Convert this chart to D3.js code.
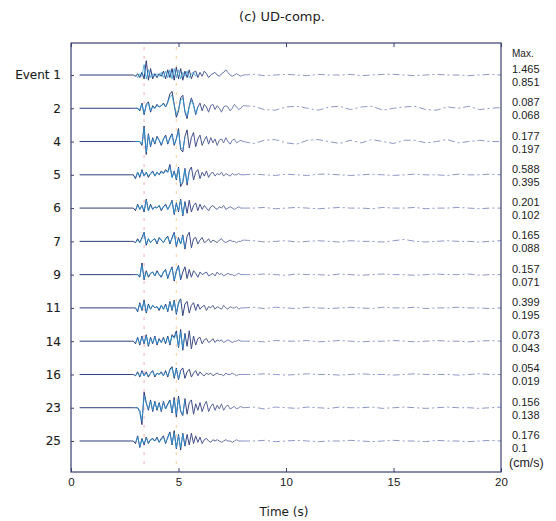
<!DOCTYPE html>
<html>
<head>
<meta charset="utf-8">
<script src="https://cdn.jsdelivr.net/npm/d3@7"></script>
<style>
  body { margin: 0; background: #fff; }
  svg { display: block; }
</style>
</head>
<body>
<div id="chart"></div>
<script>
// event rows, top to bottom
const events = ["Event 1", "2", "4", "5", "6", "7", "9", "11", "14", "16", "23", "25"];
// max amplitudes (cm/s) printed at the right, observed / synthetic
const maxObs = ["1.465", "0.087", "0.177", "0.588", "0.201", "0.165", "0.157", "0.399", "0.073", "0.054", "0.156", "0.176"];
const maxSyn = ["0.851", "0.068", "0.197", "0.395", "0.102", "0.088", "0.071", "0.195", "0.043", "0.019", "0.138", "0.1"];
const xTicks = [0, 5, 10, 15, 20];
// phase picks (s)
const marks = [3.4, 4.9];

// observed traces, normalised amplitude, every 0.1 s from 2.8 s to 8.0 s
const obs = [
  [0,0,-1,1,-2,2,-3,11,-4,5,-3,1,-2,1,-1,3,-3,4,-2,5,-4,6,-3,5,-4,3,-2,4,-3,2,3,-2,2,-1,3,1,-2,0,1,2,0,-1,1,2,4,2,0,-1,0,1,0,-1,0],
  [0,0,0,0,-2,4,-5,3,5,-3,2,0,3,1,2,4,1,5,11,13,3,-7,-2,8,10,-3,-8,2,8,3,-5,1,4,-2,3,1,-3,2,3,-1,2,0,-3,1,2,1,-2,0,3,1,-1,0,2],
  [0,0,0,0,0,-3,12,-10,6,-4,3,-2,4,1,-3,2,5,-2,3,6,-3,2,10,-6,-8,4,9,-5,3,7,-4,2,5,-3,1,4,-2,3,-1,2,-3,1,2,-1,3,0,-2,1,2,-1,0,1,0],
  [0,0,-3,2,-2,4,-1,2,-2,1,3,-1,2,0,3,1,4,2,8,-2,3,-4,6,-9,-6,5,-8,3,6,-4,2,4,-3,2,-1,3,-2,1,2,-1,1,0,2,-1,1,0,-1,1,0,0,1,0,0],
  [0,0,-2,3,-1,2,-3,7,-2,3,-1,1,0,2,-2,1,3,-1,2,6,-5,4,-3,7,-6,5,-4,6,-3,2,4,-2,3,-1,2,0,-2,1,2,0,-1,1,0,2,-1,0,1,0,-1,0,1,0,0],
  [0,0,-1,2,-1,3,7,-3,2,-1,1,2,-2,3,1,-1,2,4,-2,3,7,-4,3,-2,5,-6,4,7,-5,2,3,-2,1,3,-1,0,2,-1,1,0,-1,1,2,0,-1,0,1,0,0,-1,0,0,1],
  [0,0,0,0,-2,9,-4,3,-2,1,2,-1,3,0,-2,2,4,-3,2,6,-5,3,7,-4,2,6,-3,4,-2,3,1,-2,2,0,1,2,-1,0,1,-1,2,0,1,-1,0,1,0,0,-1,0,1,0,0],
  [0,0,0,-3,4,-2,6,-4,3,-1,2,0,1,-2,2,-1,3,-3,5,-2,6,-5,4,7,-6,3,5,-4,2,4,-2,3,-1,1,2,-2,1,0,2,-1,1,0,-1,2,0,-1,1,0,0,1,-1,0,0],
  [0,0,-2,3,-3,4,-2,5,-4,3,-2,4,-3,2,-1,3,-2,4,-3,5,3,8,-5,9,-7,6,-4,8,-6,4,-3,2,3,-2,1,2,-1,0,2,-1,1,0,1,-1,0,1,0,-1,0,0,1,0,0],
  [0,0,-1,2,-2,3,-1,2,-2,1,3,-2,1,0,2,-1,3,-2,4,6,-3,5,-4,3,5,-3,2,4,-2,1,3,-1,2,0,-1,1,0,1,-1,0,1,0,0,-1,1,0,0,1,0,-1,0,0,0],
  [0,0,0,0,-3,-13,12,4,-2,6,-3,5,-2,4,-3,5,-1,3,6,-4,8,-7,9,-3,-6,7,-5,4,6,-5,3,-2,4,-3,2,5,-3,1,3,-2,2,-1,3,-2,1,2,-1,0,1,-1,0,1,0],
  [0,0,-2,4,-5,2,-3,3,-2,1,2,0,3,-1,2,4,-2,3,7,-3,8,-6,5,-7,6,-4,5,-3,6,-2,4,-1,3,-2,1,2,0,-1,1,0,1,0,-1,0,1,0,0,-1,0,1,0,0,0]
];

// coda of the observed traces, every 0.5 s from 8.5 s to 20 s
const coda = [
  [0.5,-0.5,0,0.5,0,-0.5,0.5,0,0,0.5,-0.5,0,0.5,0.5,0,-0.5,0,0.5,0,0,-0.5,0,0.5,0],
  [1.5,-1,-1.5,1,1.5,0,-1.5,1,1.5,-1,1,1.5,-1.5,0,1,1.5,-1,-1.5,1,0,1.5,-1,0,0.5],
  [-1.5,1,1.5,-1,-2,1,1.5,0,-1.5,1,-1,1.5,0,-1.5,1,1,-1,0,1.5,-1,0,1,0,0],
  [0.5,0,-0.5,0.5,0,-0.5,0.5,0.5,0,-0.5,0,0.5,0,-0.5,0,0.5,0,0,-0.5,0.5,0,0,0.5,0],
  [0,0.5,-0.5,0,0.5,0,-0.5,0,0.5,0,0,-0.5,0.5,0,0,0.5,-0.5,0,0,0.5,0,-0.5,0,0],
  [0.5,-0.5,0,0.5,-0.5,0,0.5,0,-0.5,0.5,0,0,-0.5,0.5,1.5,0,-0.5,0,0.5,0,0,-0.5,0,0.5],
  [0,0.5,0,-0.5,0.5,0,0,-0.5,0.5,0,-0.5,0,0.5,0,0,-0.5,0,0.5,0,0,0.5,-0.5,0,0],
  [0.5,-0.5,0.5,0,-0.5,0.5,0,-0.5,0,0.5,0,-0.5,0.5,0,0,0.5,-0.5,0,0,0.5,0,0,-0.5,0],
  [0,-0.5,0.5,0,0,0.5,-0.5,0,0.5,0,-0.5,0,0,0.5,0,-0.5,0,0.5,0,0,-0.5,0,0.5,0],
  [0,0.5,0,-0.5,0,0.5,0,0,-0.5,0,0.5,0,0,-0.5,0,0.5,0,0,0,-0.5,0,0.5,0,0],
  [0.5,-1,0.5,0,-0.5,0.5,0,-0.5,0.5,0,0,0.5,-0.5,0,0.5,0,-0.5,0,0.5,0,0,-0.5,0,0.5],
  [0,0.5,-0.5,0,0.5,0,-0.5,0,0,0.5,0,-0.5,0,0.5,0,0,-0.5,0.5,0,0,-0.5,0,0.5,0]
];

// synthetic traces, every 0.1 s from 3.0 s
const syn = [
  [0,-2,1,-1,8,-3,4,-2,1,-1,1,-1,2,-2,3,-2,4,-3,5,-2,4,-3,2,-1,3,-2,1,2,-1,1],
  [0,0,-1,3,-4,2,4,-2,1,0,2,1,2,3,1,4,9,10,2,-5,-1,6,8,-2,-6,1,6,2,-4,1],
  [0,0,0,-2,10,-8,5,-3,2,-1,3,1,-2,2,4,-1,2,5,-2,2,8,-5,-6,3],
  [-2,2,-1,3,-1,2,-1,1,2,-1,2,0,2,1,3,2,6,-2,2,-3,5,-7,-5,4,-6,2],
  [-1,2,-1,2,-2,6,-2,2,-1,1,0,2,-1,1,2,-1,2,5,-4,3,-2,6,-5,4],
  [-1,1,-1,2,6,-2,2,-1,1,2,-1,2,1,-1,2,3,-1,2,6,-3,2,-2,4,-5],
  [0,0,-1,7,-3,2,-1,1,2,-1,2,0,-1,2,3,-2,2,5,-4,2,6,-3],
  [0,-2,3,-1,5,-3,2,-1,2,0,1,-1,2,-1,2,-2,4,-1,5,-4,3,6],
  [-1,2,-2,3,-1,4,-3,2,-1,3,-2,1,-1,2,-1,3,-2,4,2,6,-4,7,-5,5],
  [-1,1,-1,2,-1,1,-1,1,2,-1,1,0,1,-1,2,-1,3,5,-2,4,-3,2],
  [0,0,-2,-10,9,3,-1,5,-2,4,-1,3,-2,4,-1,2,5,-3,6,-5,7,-2,-5,6],
  [-1,3,-4,1,-2,2,-1,1,1,0,2,-1,1,3,-1,2,6,-2,6,-5,4,-5,5,-3]
];

const width = 556, height = 521;
const margin = {top: 43, right: 55, bottom: 49, left: 71};
const ink = "#1c1c1c", frame = "#39406e";

const svg = d3.select("#chart").append("svg")
  .attr("width", width)
  .attr("height", height);

const x = d3.scaleLinear().domain([0, 20]).range([margin.left, width - margin.right]);
const y = d3.scalePoint().domain(events).range([75, 441]);
const amp = d3.scaleLinear().domain([-10, 10]).range([13, -13]);

// fade the later part like the scan does
const grad = svg.append("defs").append("linearGradient")
  .attr("id", "fade")
  .attr("gradientUnits", "userSpaceOnUse")
  .attr("x1", x(5)).attr("x2", x(9)).attr("y1", 0).attr("y2", 0);
grad.append("stop").attr("offset", 0).attr("stop-color", "#2d3b78");
grad.append("stop").attr("offset", 1).attr("stop-color", "#9aa4cf");

// pick marks
svg.append("g")
  .selectAll("line")
  .data(marks)
  .join("line")
  .attr("x1", d => x(d)).attr("x2", d => x(d))
  .attr("y1", margin.top + 4).attr("y2", height - margin.bottom - 4)
  .attr("stroke", (d, i) => i ? "#f2c27e" : "#f19aa6")
  .attr("stroke-width", 1.3)
  .attr("stroke-dasharray", "3,6")
  .attr("opacity", 0.6);

const line = d3.line().x(d => x(d[0])).y(d => d[1]);

events.forEach((ev, k) => {
  const y0 = y(ev);
  const main = [[0.4, y0]].concat(obs[k].map((v, i) => [2.8 + 0.1 * i, y0 + amp(v)]));
  const tail = [main[main.length - 1]].concat(coda[k].map((v, i) => [8.5 + 0.5 * i, y0 + amp(v)]));
  const sPts = syn[k].map((v, i) => [3.0 + 0.1 * i, y0 + amp(v)]);

  svg.append("path")
    .attr("d", line(main))
    .attr("fill", "none")
    .attr("stroke", "url(#fade)")
    .attr("stroke-width", 1)
    .attr("stroke-linejoin", "round");

  svg.append("path")
    .attr("d", line(tail))
    .attr("fill", "none")
    .attr("stroke", "#8e98c6")
    .attr("stroke-width", 1)
    .attr("stroke-dasharray", "7,3,2,3");

  svg.append("path")
    .attr("d", line(sPts))
    .attr("fill", "none")
    .attr("stroke", "#2e9fdc")
    .attr("stroke-width", 1)
    .attr("opacity", 0.75);
});

// frame
svg.append("rect")
  .attr("x", x(0)).attr("y", margin.top)
  .attr("width", x(20) - x(0)).attr("height", height - margin.bottom - margin.top)
  .attr("fill", "none")
  .attr("stroke", frame)
  .attr("stroke-width", 1.2);

// bottom axis, ticks pointing in
const xAxis = svg.append("g")
  .attr("transform", `translate(0,${height - margin.bottom})`)
  .call(d3.axisBottom(x).tickValues(xTicks).tickSize(-4).tickPadding(6));
xAxis.select(".domain").remove();
xAxis.selectAll("line").attr("stroke", frame);
xAxis.selectAll("text")
  .attr("fill", ink)
  .style("font", "11.5px 'Liberation Sans', Arial, sans-serif");

svg.append("g")
  .attr("transform", `translate(0,${margin.top})`)
  .call(d3.axisTop(x).tickValues(xTicks).tickSize(-4).tickFormat(""))
  .call(g => g.select(".domain").remove())
  .selectAll("line").attr("stroke", frame);

// event labels on the left
const yAxis = svg.append("g")
  .attr("transform", `translate(${margin.left},0)`)
  .call(d3.axisLeft(y).tickSize(-3).tickPadding(10));
yAxis.select(".domain").remove();
yAxis.selectAll("line").attr("stroke", frame);
yAxis.selectAll("text")
  .attr("fill", ink)
  .attr("stroke", ink)
  .attr("stroke-width", 0.12)
  .style("font", "12px 'DejaVu Sans', sans-serif");

// max values on the right
const right = svg.append("g")
  .attr("fill", ink)
  .style("font", "11px 'Liberation Sans', Arial, sans-serif");
right.append("text")
  .attr("x", 512).attr("y", 57)
  .style("font-size", "10px")
  .text("Max.");
right.selectAll(".obs")
  .data(events)
  .join("text")
  .attr("x", 512).attr("y", d => y(d) - 2)
  .text((d, i) => maxObs[i]);
right.selectAll(".syn")
  .data(events)
  .join("text")
  .attr("x", 512).attr("y", d => y(d) + 11)
  .text((d, i) => maxSyn[i]);
right.append("text")
  .attr("x", 509).attr("y", 467)
  .style("font-size", "12.5px")
  .text("(cm/s)");

// title and x label
svg.append("text")
  .attr("x", 282).attr("y", 21)
  .attr("text-anchor", "middle")
  .attr("fill", ink)
  .style("font", "13px 'DejaVu Sans', sans-serif")
  .text("(c) UD-comp.");

svg.append("text")
  .attr("x", 284).attr("y", 516)
  .attr("text-anchor", "middle")
  .attr("fill", ink)
  .style("font", "12px 'DejaVu Sans', sans-serif")
  .text("Time (s)");
</script>
</body>
</html>
